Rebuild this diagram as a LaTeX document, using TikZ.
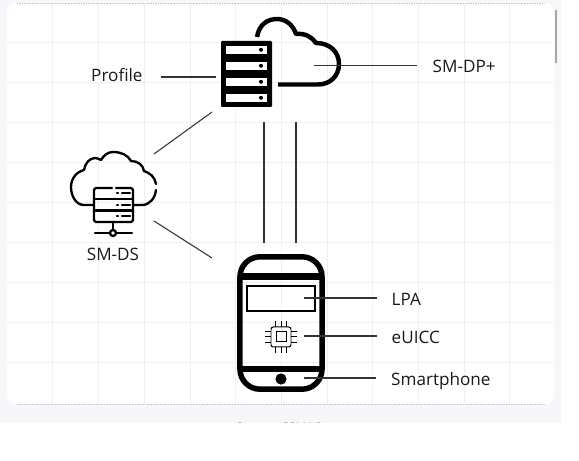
\documentclass[tikz,border=0pt]{standalone}
\usepackage{fontspec}
\setmainfont{Open Sans}
\usetikzlibrary{positioning}
\definecolor{pagebg}{HTML}{F5F7FA}
\definecolor{gridcol}{HTML}{F0F0F0}
\definecolor{conncol}{HTML}{333333}

\begin{document}
\begin{tikzpicture}[
  x=0.03cm, y=-0.03cm,
  every node/.style = {font=\fontsize{14.6pt}{17pt}\selectfont, text=black!90},
  label/.style = {inner sep=0pt, text height=11pt, text depth=0pt},
  icon/.style  = {inner sep=0pt, minimum width=#1},
  conn/.style  = {draw=conncol, line width=0.9pt},
  gridline/.style = {draw=gridcol, line width=0.6pt},
  bigline/.style  = {draw=black, line width=3.8pt, line join=round},
  dsline/.style   = {draw=black, line width=2pt, line cap=round, line join=round},
  chipline/.style = {draw=black, line width=0.85pt},
]
\useasboundingbox (0,0) rectangle (579,461);

%% ── Card and grid ─────────────────────────────────────────────────────────
\fill[pagebg] (0,0) rectangle (561,423);
\fill[white, rounded corners=7pt] (7,3) rectangle (554,404);
\foreach \gx in {52.8,98.5,...,520} \draw[gridline] (\gx,4) -- (\gx,404);
\foreach \gy in {42,82,...,370} \draw[gridline] (7,\gy) -- (554,\gy);
\draw[gray!45, line width=0.4pt, densely dotted] (17,3) -- (545,3);
\draw[gray!45, line width=0.4pt, densely dotted] (17,404) -- (545,404);
\draw[gray!70, line width=0.9pt] (556,10) -- (556,63);

%% ── Caption, cut off by the page background ───────────────────────────────
\begin{scope}
  \clip (0,404) rectangle (561,423);
  \node[font=\fontsize{10pt}{12pt}\selectfont, text=black!60, anchor=base]
    at (280,432) (source) {Source: GSMA®};
\end{scope}

%% ── SM-DP+ ────────────────────────────────────────────────────────────────
\node[icon=43.5pt, minimum height=56pt] at (246.5,74) (server) {};
\draw[bigline, line cap=butt]
  (257,37) .. controls (259,25) and (267,19) .. (277,19)
           .. controls (286,19) and (293,25) .. (296,34)
           .. controls (305,33) and (312,37) .. (316,43)
           .. controls (330,43) and (339,52) .. (339,64)
           .. controls (339,76) and (330,84.5) .. (318,84.5) -- (278,84.5);
\fill[black, rounded corners=1pt] (221,41) rectangle (272,107);
\foreach \sy in {46,62,78,94} {
  \fill[white] (226,\sy) rectangle (267,\sy+8);
  \fill[black] (261,\sy+3.8) circle (2);
}

%% ── SM-DS ─────────────────────────────────────────────────────────────────
\draw[dsline]
  (93,205) -- (84,205)
           .. controls (76,205) and (71,196) .. (71,187)
           .. controls (71,179) and (76,172) .. (84,170)
           .. controls (85,163) and (90,158) .. (95,158)
           .. controls (97,158) and (99,159) .. (101,160)
           .. controls (104,155) and (108,152) .. (113,152)
           .. controls (121,152) and (128,155) .. (131,161)
           .. controls (138,161) and (143,165) .. (144,171)
           .. controls (150,173) and (155,177) .. (156,184);
\draw[dsline]
  (156,190) .. controls (155,198) and (150,205) .. (142,205) -- (134,205);
\node[icon=33pt, minimum height=29pt] at (113.5,205) (dsicon) {};
\draw[dsline, rounded corners=1.5pt]
  (112,188) -- (94,188) -- (94,222) -- (133,222) -- (133,188) -- (116,188);
\draw[dsline] (94,199) -- (133,199);
\draw[dsline] (94,210.5) -- (133,210.5);
\foreach \dy in {193,205,216} {
  \draw[dsline] (117,\dy) -- (118,\dy);
  \draw[dsline] (122,\dy) -- (130,\dy);
}
\draw[dsline] (113,222) -- (113,230);
\draw[dsline] (95,233) -- (132,233);
\draw[dsline, fill=white] (113,233) circle (3);

%% ── Smartphone ────────────────────────────────────────────────────────────
\node[draw=black, line width=4.7pt, rounded corners=17pt, inner sep=0pt,
      minimum width=70pt, minimum height=113pt] at (281,323) (phone) {};
\draw[black, line width=5.5pt] (240,276.7) -- (322,276.7);
\draw[black, line width=5.3pt] (240,369) -- (322,369);
\fill[black] (281,379) circle (5.6);
\node[draw=black, line width=0.9pt, inner sep=0pt,
      minimum width=58pt, minimum height=21.3pt] at (281,298.5) (lpabox) {};

%% ── Chip ──────────────────────────────────────────────────────────────────
\draw[chipline, rounded corners=2pt] (271,327) rectangle (291,347);
\draw[chipline] (276,332) rectangle (286,342);
\foreach \p in {-5.5,0,5.5} {
  \draw[chipline] (281+\p,321) -- (281+\p,327);
  \draw[chipline] (281+\p,347) -- (281+\p,353);
  \draw[chipline] (265,337+\p) -- (271,337+\p);
  \draw[chipline] (291,337+\p) -- (297,337+\p);
}

%% ── Labels ────────────────────────────────────────────────────────────────
\node[label, anchor=base west] at (91,82) (profile) {Profile};
\node[label, anchor=base west] at (432.5,73) (dplabel) {SM-DP+};
\node[label, anchor=base] at (113,260.5) (dslabel) {SM-DS};
\node[label, anchor=base west] at (391.5,306) (lpa) {LPA};
\node[label, anchor=base west] at (391.5,344) (euicc) {eUICC};
\node[label, anchor=base west] at (391,386) (smartphone) {Smartphone};

%% ── Connector ends ────────────────────────────────────────────────────────
\coordinate (profileend) at (216,77);
\coordinate (cloudend) at (314,65.5);
\coordinate (lpaend) at (304,298);
\coordinate (chipend) at (304,336);
\coordinate (buttonend) at (304,378);
\coordinate (dsup) at (154,154);
\coordinate (srvleft) at (212,112);
\coordinate (dsdown) at (154,221);
\coordinate (phoneleft) at (212,258);
\coordinate (linkA) at (264,0);
\coordinate (linkB) at (296,0);

%% ── Connectors ────────────────────────────────────────────────────────────
\draw[conn, shorten <=15.5pt] (profile.east |- profileend) -- (profileend);
\draw[conn, shorten >=13pt] (cloudend) -- (dplabel.west |- cloudend);
\draw[conn, shorten >=12.5pt] (lpaend) -- (lpa.west |- lpaend);
\draw[conn, shorten >=12.5pt] (chipend) -- (euicc.west |- chipend);
\draw[conn, shorten >=12.5pt] (buttonend) -- (smartphone.west |- buttonend);
\draw[conn] (dsup) -- (srvleft);
\draw[conn] (dsdown) -- (phoneleft);
\draw[conn, shorten <=12.8pt, shorten >=9.4pt] (server.south -| linkA) -- (phone.north -| linkA);
\draw[conn, shorten <=12.8pt, shorten >=9.4pt] (server.south -| linkB) -- (phone.north -| linkB);

\end{tikzpicture}
\end{document}
